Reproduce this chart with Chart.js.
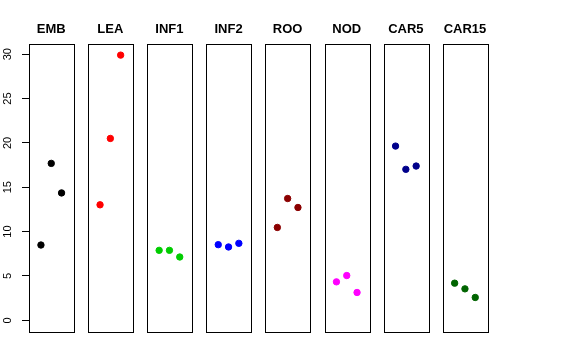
<!DOCTYPE html>
<html>
<head>
<meta charset="utf-8">
<script src="https://cdn.jsdelivr.net/npm/chart.js@4"></script>
<style>
  body { margin: 0; background: #fff; }
  #wrap { position: relative; width: 576px; height: 360px; overflow: hidden; }
  #wrap canvas { position: absolute; top: 0; }
</style>
</head>
<body>
<div id="wrap"></div>
<script>
// ---------------- data ----------------
var panels = ["EMB", "LEA", "INF1", "INF2", "ROO", "NOD", "CAR5", "CAR15"];
var xPos = [1, 2, 3];
var EMB = [8.49, 17.69, 14.36];
var LEA = [13.02, 20.50, 29.89];
var INF1 = [7.89, 7.89, 7.14];
var INF2 = [8.53, 8.27, 8.68];
var ROO = [10.47, 13.73, 12.72];
var NOD = [4.34, 5.05, 3.14];
var CAR5 = [19.64, 17.02, 17.39];
var CAR15 = [4.19, 3.55, 2.58];
var yTicks = [0, 5, 10, 15, 20, 25, 30];

var series = [EMB, LEA, INF1, INF2, ROO, NOD, CAR5, CAR15];
var colors = ["#000000", "#FF0000", "#00CD00", "#0000FF", "#8B0000", "#FF00FF", "#00008B", "#006400"];

// ---------------- layout ----------------
var canvasH = 360;
var plotTop = 43.5, plotBottom = 331;
var panelW = 44.5, pitch = 59.1, firstLeft = 29;
var font = "'Liberation Sans', Arial, sans-serif";

// panel box + bold title
var panelPlugin = {
    id: "panelBox",
    afterDraw: function (chart) {
        var a = chart.chartArea, c = chart.ctx;
        c.save();
        c.strokeStyle = "#000";
        c.lineWidth = 1;
        c.strokeRect(Math.round(a.left) + 0.5, Math.round(a.top) + 0.5,
            Math.round(a.right - a.left), Math.round(a.bottom - a.top));
        c.fillStyle = "#000";
        c.font = "bold 13px " + font;
        c.textAlign = "center";
        c.textBaseline = "middle";
        c.fillText(chart.options.plugins.panelBox.title, (a.left + a.right) / 2, 29);
        c.restore();
    }
};

// rotated y tick labels (read bottom to top)
var yLabelPlugin = {
    id: "yLabels",
    afterDraw: function (chart) {
        var s = chart.scales.y, c = chart.ctx;
        c.save();
        c.fillStyle = "#000";
        c.font = "11px " + font;
        c.textAlign = "center";
        c.textBaseline = "middle";
        s.ticks.forEach(function (t) {
            var y = s.getPixelForValue(t.value);
            c.save();
            c.translate(8, y);
            c.rotate(-Math.PI / 2);
            c.fillText(String(t.value), 0, 0);
            c.restore();
        });
        c.restore();
    }
};

var wrap = document.getElementById("wrap");

panels.forEach(function (name, i) {
    var pLeft = firstLeft + i * pitch;
    var first = i === 0;
    var cvLeft = first ? 0 : Math.round(pLeft) - 6;
    var cvW = Math.round(pLeft + panelW) + 6 - cvLeft;
    var cv = document.createElement("canvas");
    cv.width = cvW;
    cv.height = canvasH;
    cv.style.left = cvLeft + "px";
    wrap.appendChild(cv);

    var yScale = {
        display: first,
        min: -1.2,
        max: 31.2,
        afterBuildTicks: function (s) {
            s.ticks = yTicks.map(function (v) { return { value: v }; });
        },
        border: { display: false },
        grid: { drawOnChartArea: false, drawTicks: true, tickLength: 7, color: "#000" },
        ticks: { display: false }
    };
    if (first) {
        yScale.afterFit = function (s) { s.width = pLeft; };
    }

    new Chart(cv, {
        type: "scatter",
        data: {
            datasets: [{
                data: xPos.map(function (x, j) { return { x: x, y: series[i][j] }; }),
                backgroundColor: colors[i],
                borderColor: colors[i],
                pointRadius: 3.2,
                pointHoverRadius: 3.2
            }]
        },
        options: {
            responsive: false,
            animation: false,
            devicePixelRatio: 1,
            layout: {
                padding: {
                    left: first ? 0 : pLeft - cvLeft,
                    right: cvLeft + cvW - (pLeft + panelW),
                    top: plotTop,
                    bottom: canvasH - plotBottom
                }
            },
            plugins: {
                legend: { display: false },
                tooltip: { enabled: false },
                panelBox: { title: name }
            },
            scales: {
                x: { type: "linear", display: false, min: -0.16, max: 4.16 },
                y: yScale
            }
        },
        plugins: first ? [panelPlugin, yLabelPlugin] : [panelPlugin]
    });
});
</script>
</body>
</html>
